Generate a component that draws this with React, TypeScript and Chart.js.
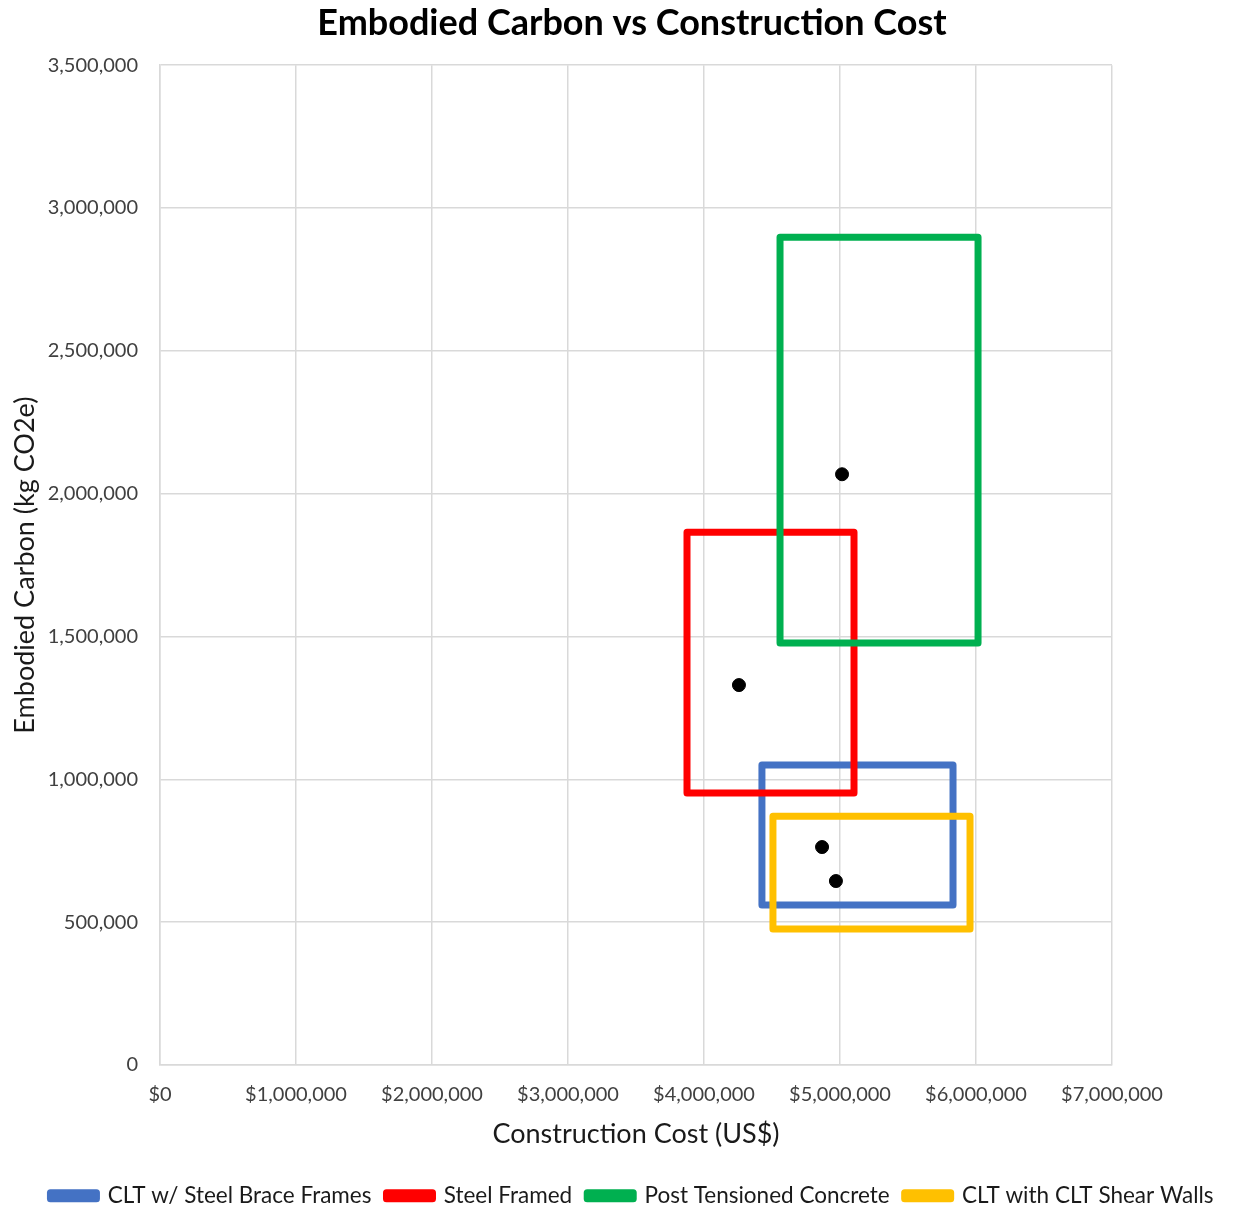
import { useEffect, useRef } from "react";
import { Chart, registerables } from "chart.js";

Chart.register(...registerables);

// Structural systems and their cost / carbon ranges
const systems = [
  "CLT w/ Steel Brace Frames",
  "Steel Framed",
  "Post Tensioned Concrete",
  "CLT with CLT Shear Walls",
];
const colors = ["#4472C4", "#FF0000", "#00B050", "#FFC000"];
const costLow = [4426000, 3875000, 4559000, 4507000];
const costHigh = [5831000, 5103000, 6015000, 5956000];
const carbonLow = [560000, 952000, 1477000, 476000];
const carbonHigh = [1050000, 1865000, 2898000, 871000];

// Representative design point for each system
const centerCost = [4868000, 4257000, 5015000, 4970000];
const centerCarbon = [763000, 1330000, 2068000, 644000];

// Axis ranges
const xTicksMax = 7000000;
const xStep = 1000000;
const yTicksMax = 3500000;
const yStep = 500000;

const FONT = "Lato, 'Open Sans', 'DejaVu Sans', sans-serif";
const TEXT = "#404040";
const GRID = "#D9D9D9";

export default function App() {
  const canvasRef = useRef<HTMLCanvasElement | null>(null);

  useEffect(() => {
    const canvas = canvasRef.current;
    if (!canvas) return;

    const rectSets = systems.map((name, i) => ({
      type: "scatter" as const,
      label: name,
      data: [
        { x: costLow[i], y: carbonLow[i] },
        { x: costLow[i], y: carbonHigh[i] },
        { x: costHigh[i], y: carbonHigh[i] },
        { x: costHigh[i], y: carbonLow[i] },
        { x: costLow[i], y: carbonLow[i] },
      ],
      showLine: true,
      fill: false,
      borderColor: colors[i],
      backgroundColor: colors[i],
      borderWidth: 7,
      borderJoinStyle: "round" as const,
      borderCapStyle: "round" as const,
      pointRadius: 0,
      pointHoverRadius: 0,
      order: systems.length - i,
    }));

    const centers = {
      type: "scatter" as const,
      label: "centers",
      data: centerCost.map((x, i) => ({ x, y: centerCarbon[i] })),
      showLine: false,
      backgroundColor: "#000000",
      borderColor: "#000000",
      pointRadius: 6.5,
      pointHoverRadius: 6.5,
      order: 0,
    };

    const chart = new Chart(canvas, {
      type: "scatter",
      data: { datasets: [...rectSets, centers] as any },
      options: {
        animation: false,
        responsive: false,
        devicePixelRatio: 1,
        layout: { padding: { left: 26, right: 0, top: 0, bottom: -8 } },
        plugins: {
          tooltip: { enabled: false },
          title: {
            display: true,
            text: "Embodied Carbon vs Construction Cost",
            color: "#000000",
            font: { family: FONT, size: 36, weight: "bold" },
            padding: { top: 2, bottom: 20 },
          },
          legend: {
            display: true,
            position: "bottom",
            labels: {
              color: "#1a1a1a",
              font: { family: FONT, size: 22.5 },
              boxWidth: 46,
              boxHeight: 6,
              padding: 15,
              filter: (item: any) => item.datasetIndex < systems.length,
              sort: (a: any, b: any) => a.datasetIndex - b.datasetIndex,
            },
          },
        },
        scales: {
          x: {
            type: "linear",
            min: 0,
            max: xTicksMax,
            ticks: {
              stepSize: xStep,
              color: TEXT,
              font: { family: FONT, size: 20 },
              padding: 18,
              maxRotation: 0,
              callback: (v: any) => "$" + Number(v).toLocaleString("en-US"),
            },
            grid: { color: GRID, lineWidth: 1.5, drawTicks: false },
            border: { color: GRID, width: 1.5 },
            title: {
              display: true,
              text: "Construction Cost (US$)",
              color: "#1a1a1a",
              font: { family: FONT, size: 27 },
              padding: { top: 0, bottom: 19 },
            },
            afterFit: (scale: any) => {
              scale.height = 104.5;
            },
          },
          y: {
            type: "linear",
            min: 0,
            max: yTicksMax,
            ticks: {
              stepSize: yStep,
              color: TEXT,
              font: { family: FONT, size: 20 },
              padding: 22,
              callback: (v: any) => Number(v).toLocaleString("en-US"),
            },
            grid: { color: GRID, lineWidth: 1.5, drawTicks: false },
            border: { color: GRID, width: 1.5 },
            title: {
              display: true,
              text: "Embodied Carbon (kg CO2e)",
              color: "#1a1a1a",
              font: { family: FONT, size: 27 },
              padding: { top: -17, bottom: 0 },
            },
            afterFit: (scale: any) => {
              scale.width = 134;
            },
          },
          // empty right-hand gutter so the plot ends short of the canvas edge
          gutter: {
            type: "linear",
            position: "right",
            display: true,
            grid: { display: false },
            border: { display: false },
            ticks: { display: false },
            afterFit: (scale: any) => {
              scale.width = 126;
            },
          },
        },
      },
    });

    return () => chart.destroy();
  }, []);

  return (
    <div
      style={{
        position: "absolute",
        left: 0,
        top: 0,
        width: 1238,
        height: 1209,
        background: "#ffffff",
      }}
    >
      <canvas ref={canvasRef} width={1238} height={1209} />
    </div>
  );
}
